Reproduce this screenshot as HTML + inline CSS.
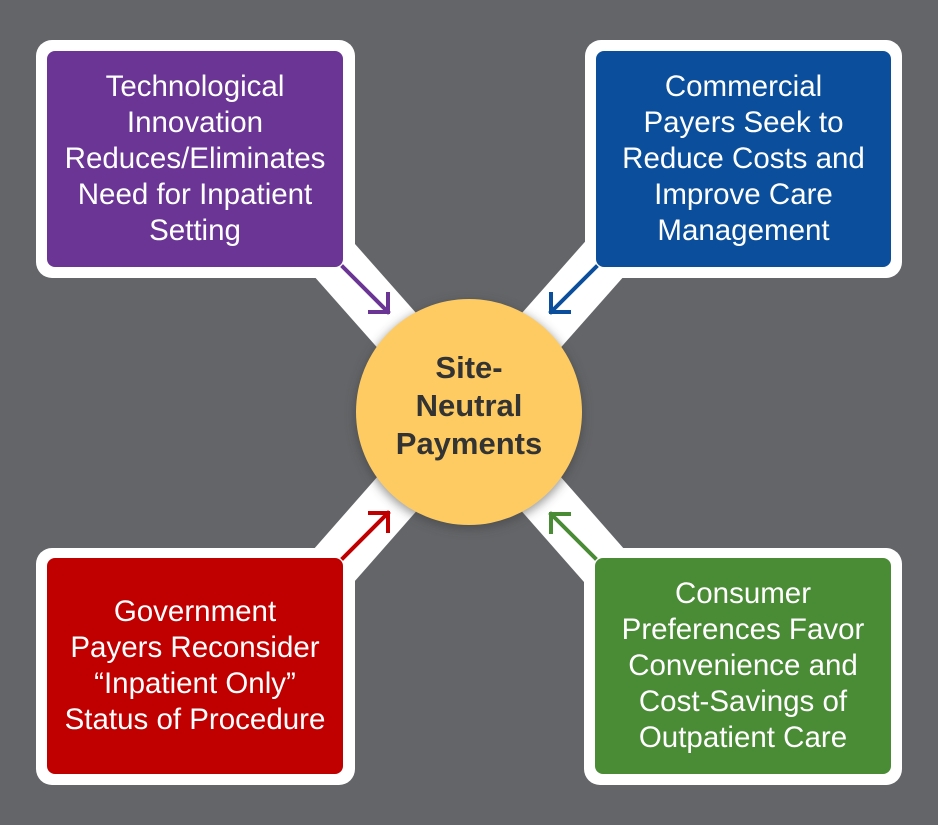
<!DOCTYPE html>
<html><head><style>
body{margin:0;width:938px;height:825px;background:#646568;overflow:hidden;position:relative;font-family:"Liberation Sans",sans-serif}
.o{position:absolute;background:#fff;border-radius:16px}
.i{position:absolute;border-radius:8px;color:#fff;font-size:29.5px;line-height:36px;text-align:center;display:flex;align-items:center;justify-content:center;white-space:nowrap}
svg{position:absolute;left:0;top:0}
</style></head><body>
<svg width="938" height="825">
<defs><filter id="s" x="-20%" y="-20%" width="140%" height="140%"><feGaussianBlur stdDeviation="5"/></filter></defs>
<g stroke="#fff" stroke-width="52" stroke-linecap="butt">
<line x1="330" y1="255" x2="469" y2="412"/>
<line x1="608" y1="255" x2="469" y2="412"/>
<line x1="330" y1="570" x2="469" y2="412"/>
<line x1="608" y1="570" x2="469" y2="412"/>
</g>
<circle cx="469" cy="415" r="114" fill="#3a3a3c" opacity=".5" filter="url(#s)"/>
<circle cx="469" cy="412" r="113" fill="#FDCB62"/>
</svg>
<div class="o" style="left:36px;top:40px;width:319px;height:238px"></div>
<div class="o" style="left:585px;top:40px;width:317px;height:238px"></div>
<div class="o" style="left:36px;top:548px;width:319px;height:237px"></div>
<div class="o" style="left:584px;top:548px;width:318px;height:237px"></div>
<div class="i" style="left:47px;top:51px;width:296px;height:216px;background:#6A3594">Technological<br>Innovation<br>Reduces/Eliminates<br>Need for Inpatient<br>Setting</div>
<div class="i" style="left:596px;top:51px;width:295px;height:216px;background:#0B4F9C">Commercial<br>Payers Seek to<br>Reduce Costs and<br>Improve Care<br>Management</div>
<div class="i" style="left:47px;top:558px;width:296px;height:216px;background:#C00000">Government<br>Payers Reconsider<br>“Inpatient Only”<br>Status of Procedure</div>
<div class="i" style="left:595px;top:558px;width:296px;height:216px;background:#4A8B35">Consumer<br>Preferences Favor<br>Convenience and<br>Cost-Savings of<br>Outpatient Care</div>
<svg width="938" height="825" style="pointer-events:none">
<g fill="none" stroke-width="4" stroke-linecap="square">
<path d="M343 267 L388 312 M370 312 L388 312 L388 294" stroke="#6A3594"/>
<path d="M596 267 L551 312 M569 312 L551 312 L551 294" stroke="#0B4F9C"/>
<path d="M343 558 L388 513 M370 513 L388 513 L388 531" stroke="#C00000"/>
<path d="M595 558 L551 514 M569 514 L551 514 L551 532" stroke="#4A8B35"/>
</g>
<g font-family="Liberation Sans, sans-serif" font-weight="bold" font-size="31" fill="#333" text-anchor="middle">
<text x="469" y="378">Site-</text>
<text x="469" y="416">Neutral</text>
<text x="469" y="454">Payments</text>
</g>
</svg>
</body></html>
